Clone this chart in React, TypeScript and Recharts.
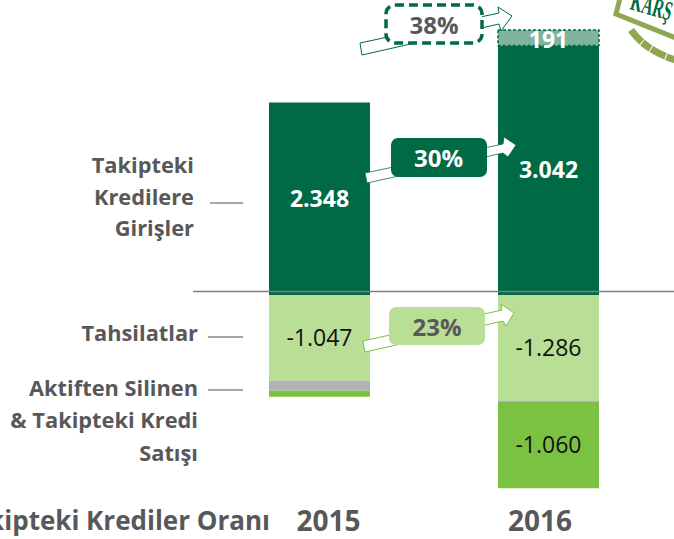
import React from "react";
import { BarChart, Bar, XAxis, YAxis, LabelList } from "recharts";

const years = ["2015", "2016"];
const tickShift = [9, -8.5];
const inflows = [2348, 3042];
const extraInflows = [null, 191];
const collections = [-1047, -1286];
const grayPart = [-122, -10];
const writeOffs = [-73, -1060];
const sideLabels = [
  { lines: ["Takipteki", "Kredilere", "Girişler"], x: 194, y: [173, 205, 236] },
  { lines: ["Tahsilatlar"], x: 198, y: [341] },
  { lines: ["Aktiften Silinen", "& Takipteki Kredi", "Satışı"], x: 198, y: [396, 428, 461] },
];
const DARK = "#006a44";
const GREY = "#58585a";
const OLIVE = "#8fa84f";
const FONT = "'Open Sans', sans-serif";

const rows = years.map((year, i) => ({
  year,
  inflows: inflows[i],
  extraInflows: extraInflows[i],
  collections: collections[i],
  grayPart: grayPart[i],
  writeOffs: writeOffs[i],
}));

const fmt = (v: any) => (v == null ? "" : String(v).replace(/(\d)(\d{3})$/, "$1.$2"));

const Tick = (p: any) => (
  <text x={p.x + tickShift[p.index]} y={531} textAnchor="middle" fontFamily={FONT} fontWeight={700} fontSize={28} fill={GREY}>
    {p.payload.value}
  </text>
);

export default function App() {
  return (
    <div style={{ position: "absolute", left: 0, top: 0, width: 674, height: 539, overflow: "hidden", background: "#fff" }}>
      <BarChart width={674} height={539} data={rows} stackOffset="sign" barCategoryGap={0}
        margin={{ left: 205, right: 11, top: 8, bottom: 0 }}>
        <XAxis dataKey="year" height={39} axisLine={false} tickLine={false} tick={<Tick />} interval={0} />
        <YAxis hide domain={[-2500, 3500]} />
        <Bar dataKey="inflows" stackId="a" fill={DARK} barSize={101} isAnimationActive={false}>
          <LabelList dataKey="inflows" position="center" formatter={fmt} fill="#fff" fontFamily={FONT} fontWeight={700} fontSize={23} />
        </Bar>
        <Bar dataKey="extraInflows" stackId="a" fill="#7fb49d" stroke={DARK} strokeWidth={1.5} strokeDasharray="3 2" barSize={101} isAnimationActive={false}>
          <LabelList dataKey="extraInflows" position="center" formatter={fmt} fill="#fff" fontFamily={FONT} fontWeight={700} fontSize={23} dy={2} />
        </Bar>
        <Bar dataKey="collections" stackId="a" fill="#b9de96" barSize={101} isAnimationActive={false}>
          <LabelList dataKey="collections" position="center" formatter={fmt} fill="#111" fontFamily={FONT} fontSize={23} />
        </Bar>
        <Bar dataKey="grayPart" stackId="a" fill="#b2b2b2" barSize={101} isAnimationActive={false} />
        <Bar dataKey="writeOffs" stackId="a" fill="#7cc242" barSize={101} isAnimationActive={false}>
          <LabelList dataKey="writeOffs" position="center" formatter={(v: any) => (v < -500 ? fmt(v) : "")} fill="#111" fontFamily={FONT} fontSize={23} />
        </Bar>
      </BarChart>

      <svg width={674} height={539} style={{ position: "absolute", left: 0, top: 0 }} fontFamily={FONT}>
        <line x1={193} x2={674} y1={291.5} y2={291.5} stroke="#7f7f7f" strokeWidth={1.5} />
        <line x1={210} x2={243} y1={203} y2={203} stroke="#8a8a8a" strokeWidth={1.5} />
        <line x1={208} x2={243} y1={337} y2={337} stroke="#8a8a8a" strokeWidth={1.5} />
        <line x1={208} x2={243} y1={390} y2={390} stroke="#8a8a8a" strokeWidth={1.5} />

        {sideLabels.map((g) =>
          g.lines.map((l, i) => (
            <text key={l} x={g.x} y={g.y[i]} textAnchor="end" fontWeight={700} fontSize={21.8} fill={GREY}>{l}</text>
          ))
        )}
        <text x={270} y={530} textAnchor="end" fontWeight={700} fontSize={26} fill={GREY}>Takipteki Krediler Oranı</text>

        <polygon points="360,43 499,13 498,7 512,16 501,31 499,24 362,55" fill="#fff" stroke={DARK} strokeWidth={1} />
        <rect x={386} y={5} width={96} height={38} rx={9} fill="#fff" stroke={DARK} strokeWidth={3.5} strokeDasharray="9 5" />
        <text x={434} y={34} textAnchor="middle" fontWeight={700} fontSize={24} fill={GREY}>38%</text>

        <polygon points="365,173 503,144 504,137 516,145 508,157 503,153 367,183" fill="#fff" stroke={DARK} strokeWidth={0.75} />
        <rect x={391} y={138} width={96} height={39} rx={7} fill={DARK} />
        <text x={438.5} y={167} textAnchor="middle" fontWeight={700} fontSize={24} fill="#fff">30%</text>

        <polygon points="363,341 502,310 501,304 514,313 506,326 503,321 365,352" fill="#fff" stroke="#7cc242" strokeWidth={1} />
        <rect x={389} y={307} width={96} height={38} rx={7} fill="#b9de96" />
        <text x={437} y={336} textAnchor="middle" fontWeight={700} fontSize={24} fill={GREY}>23%</text>

        <polyline points="620,-2 616,14 676,38" fill="none" stroke={OLIVE} strokeWidth={5} />
        <path d="M631,30 Q646,51 676,60" fill="none" stroke={OLIVE} strokeWidth={7} strokeDasharray="16 1 10 1" />
        <text x={629} y={9} transform="rotate(16 629 9)" fontFamily="'Liberation Serif', serif" fontWeight={700} fontSize={27}
          fill={DARK} textLength={42} lengthAdjust="spacingAndGlyphs">KARŞ</text>
      </svg>
    </div>
  );
}
